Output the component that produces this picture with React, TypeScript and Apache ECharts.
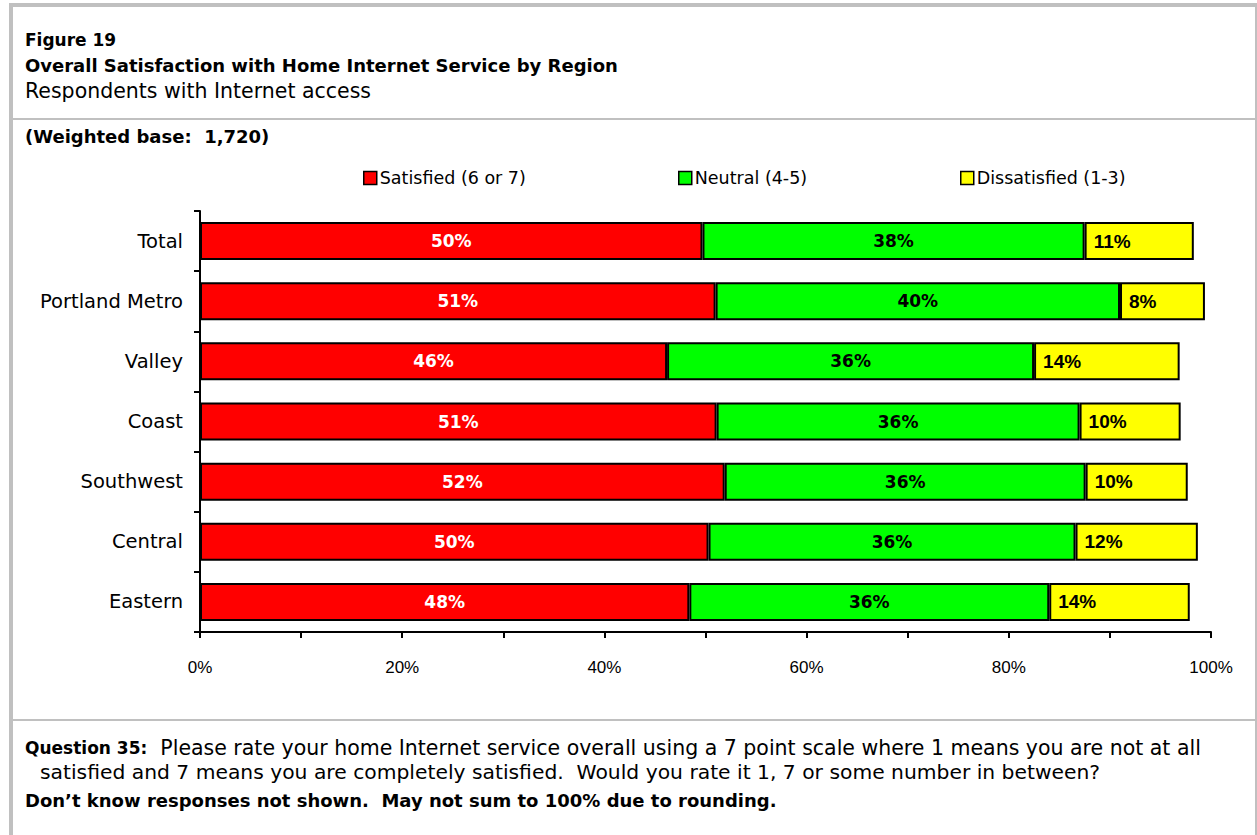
import React, { useEffect, useRef } from "react";
import * as echarts from "echarts";

const categories = ["Total", "Portland Metro", "Valley", "Coast", "Southwest", "Central", "Eastern"];
const seriesNames = ["Satisfied (6 or 7)", "Neutral (4-5)", "Dissatisfied (1-3)"];
const satisfied = [49.7, 51.0, 46.2, 51.1, 51.9, 50.3, 48.4];
const neutral = [37.8, 40.0, 36.3, 35.9, 35.7, 36.3, 35.6];
const dissatisfied = [10.8, 8.4, 14.4, 10.0, 10.1, 12.1, 13.9];
const colors = ["#ff0000", "#00ff00", "#ffff00"];

const HEAD = "'DejaVu Sans', sans-serif";
const CHART = "'DejaVu Sans', sans-serif";
const ARIAL = "'Liberation Sans', Arial, sans-serif";
const FRAME = "#c0c0c0";

export default function App() {
  const ref = useRef<HTMLDivElement>(null);
  useEffect(() => {
    const chart = echarts.init(ref.current!, null, { renderer: "svg" });
    const fmt = (p: any) => Math.round(p.value) + "%";
    const mk = (i: number, data: number[], label: any) => ({
      name: seriesNames[i],
      type: "bar",
      stack: "s",
      data,
      barWidth: 38,
      itemStyle: { color: colors[i], borderColor: "#000", borderWidth: 2 },
      label,
    });
    chart.setOption({
      animation: false,
      textStyle: { fontFamily: CHART },
      legend: seriesNames.map((n, i) => ({
        data: [n],
        left: [363, 678, 960][i],
        top: 169,
        padding: 0,
        icon: "rect",
        itemWidth: 13,
        itemHeight: 13,
        itemGap: 0,
        itemStyle: { borderColor: "#000", borderWidth: 1.5 },
        textStyle: { fontFamily: CHART, fontSize: 17.5, color: "#000", padding: [0, 0, 0, -2] },
        selectedMode: false,
      })),
      grid: { left: 200, right: 46, top: 211, bottom: 203 },
      xAxis: {
        type: "value",
        min: 0,
        max: 100,
        interval: 10,
        splitLine: { show: false },
        axisLine: { show: true, lineStyle: { color: "#000", width: 2 } },
        axisTick: { show: true, length: 6, lineStyle: { color: "#000", width: 2 } },
        axisLabel: {
          margin: 27,
          fontFamily: ARIAL,
          fontSize: 17,
          color: "#000",
          formatter: (v: number) => (v % 20 === 0 ? v + "%" : ""),
        },
      },
      yAxis: {
        type: "category",
        data: categories,
        inverse: true,
        axisLine: { show: true, lineStyle: { color: "#000", width: 2 } },
        axisTick: { show: true, length: 6, lineStyle: { color: "#000", width: 2 } },
        axisLabel: { margin: 17, fontFamily: CHART, fontSize: 19.5, color: "#000" },
      },
      series: [
        mk(0, satisfied, {
          show: true,
          position: "inside",
          formatter: fmt,
          color: "#fff",
          fontWeight: "bold",
          fontSize: 17,
          fontFamily: CHART,
        }),
        mk(1, neutral, {
          show: true,
          position: "inside",
          formatter: fmt,
          color: "#000",
          fontWeight: "bold",
          fontSize: 17,
          fontFamily: CHART,
        }),
        mk(2, dissatisfied, {
          show: true,
          position: "insideLeft",
          distance: 9,
          formatter: fmt,
          color: "#000",
          fontWeight: "bold",
          fontSize: 19,
          fontFamily: ARIAL,
        }),
      ],
      graphic: [
        { type: "rect", shape: { x: 9, y: 3, width: 1248, height: 4 }, style: { fill: FRAME }, silent: true },
        { type: "rect", shape: { x: 9, y: 3, width: 4, height: 832 }, style: { fill: FRAME }, silent: true },
        { type: "rect", shape: { x: 1255, y: 3, width: 2, height: 832 }, style: { fill: FRAME }, silent: true },
        { type: "rect", shape: { x: 13, y: 118, width: 1242, height: 2 }, style: { fill: FRAME }, silent: true },
        { type: "rect", shape: { x: 13, y: 719, width: 1242, height: 2 }, style: { fill: FRAME }, silent: true },
        {
          type: "text",
          x: 25,
          y: 40,
          style: { text: "Figure 19", font: `bold 17px ${HEAD}`, fill: "#000", verticalAlign: "middle" },
        },
        {
          type: "text",
          x: 25,
          y: 65,
          style: {
            text: "Overall Satisfaction with Home Internet Service by Region",
            font: `bold 18px ${HEAD}`,
            fill: "#000",
            verticalAlign: "middle",
          },
        },
        {
          type: "text",
          x: 25,
          y: 91,
          style: { text: "Respondents with Internet access", font: `20.5px ${HEAD}`, fill: "#000", verticalAlign: "middle" },
        },
        {
          type: "text",
          x: 25,
          y: 136,
          style: { text: "(Weighted base:  1,720)", font: `bold 18px ${HEAD}`, fill: "#000", verticalAlign: "middle" },
        },
        {
          type: "text",
          x: 25,
          y: 748,
          style: {
            text: "{b|Question 35:}  Please rate your home Internet service overall using a 7 point scale where 1 means you are not at all",
            font: `20.5px ${HEAD}`,
            fill: "#000",
            verticalAlign: "middle",
            rich: { b: { fontWeight: "bold", fontSize: 17, fontFamily: HEAD, fill: "#000" } },
          },
        },
        {
          type: "text",
          x: 40,
          y: 772,
          style: {
            text: "satisfied and 7 means you are completely satisfied.  Would you rate it 1, 7 or some number in between?",
            font: `20.3px ${HEAD}`,
            fill: "#000",
            verticalAlign: "middle",
          },
        },
        {
          type: "text",
          x: 25,
          y: 800,
          style: {
            text: "Don\u2019t know responses not shown.  May not sum to 100% due to rounding.",
            font: `bold 18px ${HEAD}`,
            fill: "#000",
            verticalAlign: "middle",
          },
        },
      ],
    });
    return () => chart.dispose();
  }, []);
  return (
    <div
      ref={ref}
      style={{ position: "absolute", left: 0, top: 0, width: 1257, height: 835, background: "#fff" }}
    />
  );
}
